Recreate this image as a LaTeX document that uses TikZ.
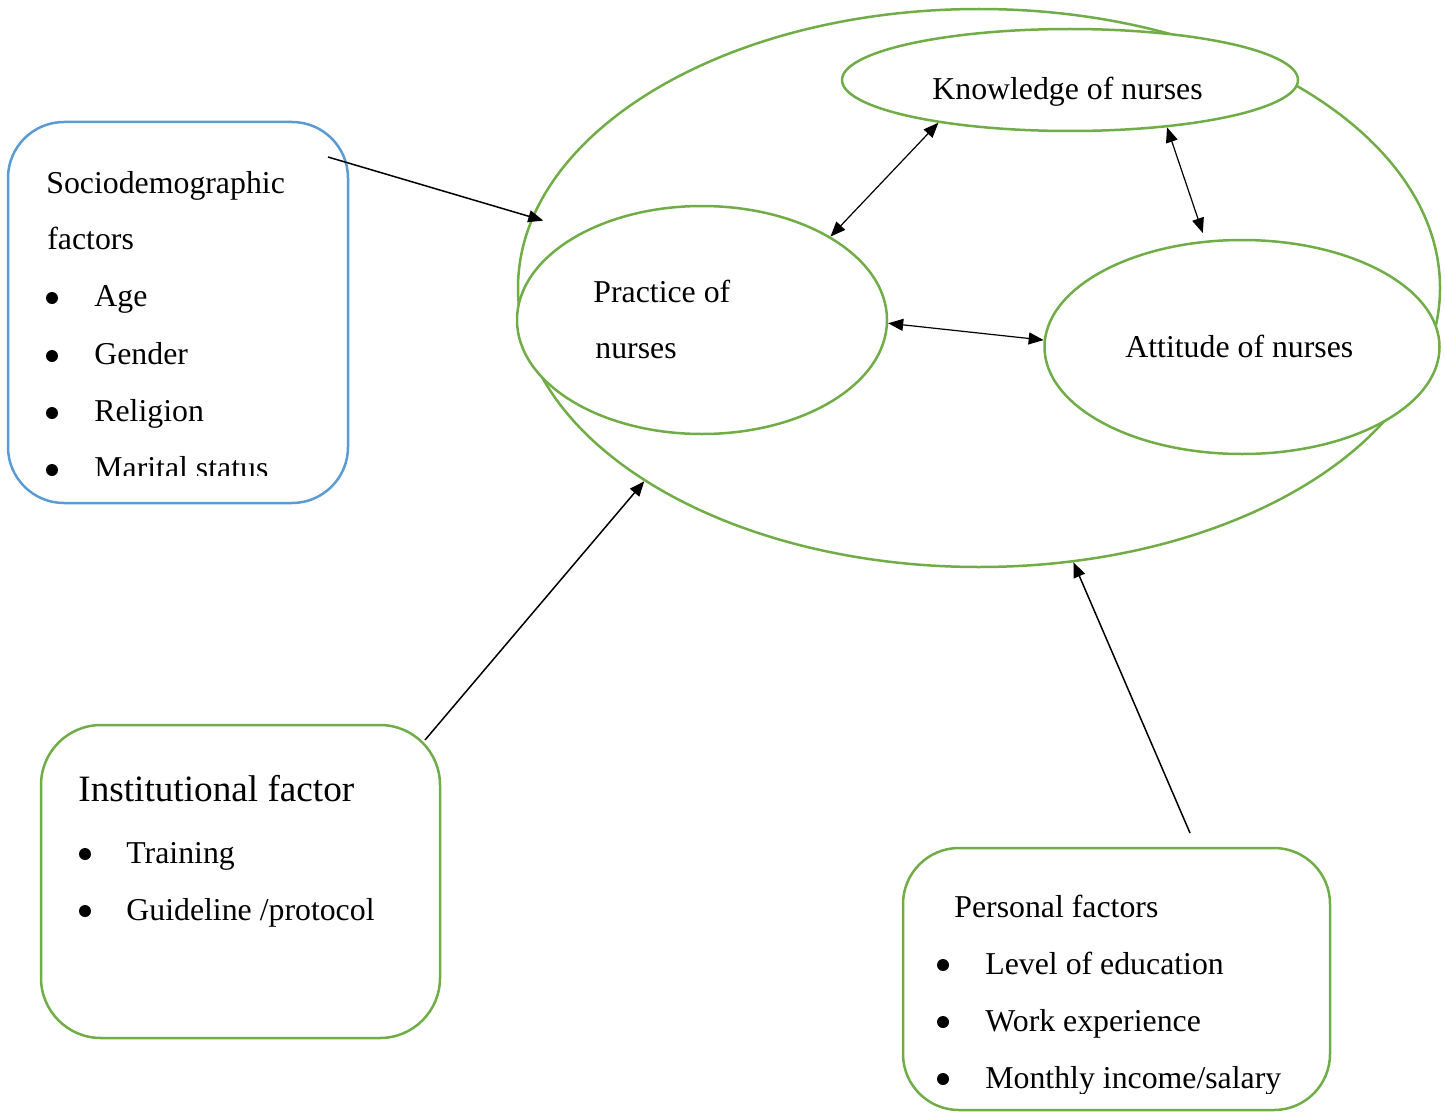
\documentclass[tikz,border=0pt]{standalone}
\usepackage{fontspec}
\setmainfont{Liberation Serif}
\usetikzlibrary{arrows.meta,shapes.geometric}
\definecolor{leafgreen}{HTML}{70AD47}
\definecolor{skyblue}{HTML}{5B9BD5}
\tikzset{
    oval/.style={draw=leafgreen, line width=1.25pt, ellipse, inner sep=0pt},
    factorbox/.style={draw=leafgreen, line width=1.25pt, rounded corners=28pt, inner sep=0pt},
    txt/.style={anchor=base west, inner sep=0pt},
    dot/.style={circle, fill=black, inner sep=0pt, minimum size=6pt},
    link/.style={line width=0.75pt, -{Triangle[length=7.5pt,width=6pt]}},
    twolink/.style={line width=0.6pt, {Triangle[length=7.5pt,width=6pt]}-{Triangle[length=7.5pt,width=6pt]}}
}

\begin{document}
\begin{tikzpicture}[x=0.5pt,y=0.5pt,yscale=-1,xscale=1,font=\fontsize{15.9}{19}\selectfont]
    \useasboundingbox (0,0) rectangle (1445,1113);

    %Shape: Ellipse
    \node[oval, minimum width=461pt, minimum height=279pt] (kap) at (979,288) {};
    \node[oval, fill=white, minimum width=228pt, minimum height=51pt] (know) at (1070,80) {};
    \node[oval, fill=white, minimum width=185pt, minimum height=114pt] (prac) at (702,320) {};
    \node[oval, fill=white, minimum width=197.5pt, minimum height=107pt] (att) at (1242,347) {};

    \node[txt] (knowtxt) at (932,100) {Knowledge of nurses};
    \node[txt] (practxt) at (593,302) {Practice of};
    \node[txt] (practxtb) at (595,358) {nurses};
    \node[txt] (atttxt) at (1125,357) {Attitude of nurses};

    %Shape: Rounded Rect
    \node[factorbox, draw=skyblue, minimum width=170pt, minimum height=190.5pt] (socio) at (178,312.5) {};
    \node[factorbox, rounded corners=30pt, minimum width=199.5pt, minimum height=156.5pt] (inst) at (240.5,881.5) {};
    \node[factorbox, minimum width=213.5pt, minimum height=131pt] (pers) at (1116.5,979) {};

    %Text: Sociodemographic
    \node[txt] (sociotitle) at (46,193) {Sociodemographic};
    \node[txt] (sociotitleb) at (47,249) {factors};
    \node[dot] (b1) at (52,298) {};
    \node[txt] (age) at (94,306) {Age};
    \node[dot] (b2) at (52,356) {};
    \node[txt] (gender) at (94,364) {Gender};
    \node[dot] (b3) at (52,413) {};
    \node[txt] (religion) at (94,421) {Religion};
    \node[dot] (b4) at (52,470) {};
    \begin{scope}
        \clip (0,0) rectangle (1445,475);
        \node[txt] (marital) at (94,478) {Marital status};
    \end{scope}

    %Text: Institutional
    \node[txt, font=\fontsize{18.6}{22}\selectfont] (insttitle) at (78,801) {Institutional factor};
    \node[dot] (b5) at (85,854) {};
    \node[txt] (training) at (126,863) {Training};
    \node[dot] (b6) at (85,911) {};
    \node[txt] (guide) at (126,920) {Guideline /protocol};

    %Text: Personal
    \node[txt] (perstitle) at (954,917) {Personal factors};
    \node[dot] (b7) at (943,965) {};
    \node[txt] (level) at (985,974) {Level of education};
    \node[dot] (b8) at (943,1022) {};
    \node[txt] (work) at (985,1031) {Work experience};
    \node[dot] (b9) at (943,1079) {};
    \begin{scope}
        \clip (0,0) rectangle (1445,1093);
        \node[txt] (income) at (985,1088) {Monthly income/salary};
    \end{scope}

    %Arrows
    \coordinate (sociotail) at (328,157);
    \coordinate (insttail) at (425,740);
    \coordinate (perstail) at (1190,833);
    \draw[link, shorten >=-6pt] (sociotail) -- (kap.171);
    \draw[link] (insttail) -- (kap.210);
    \draw[link] (perstail) -- (kap.-71);

    \draw[twolink] (know.198) -- (prac.33);
    \draw[twolink, shorten >=4pt] (know.-26) -- (att.109);
    \draw[twolink] (prac.-1) -- (att.178);
\end{tikzpicture}
\end{document}
